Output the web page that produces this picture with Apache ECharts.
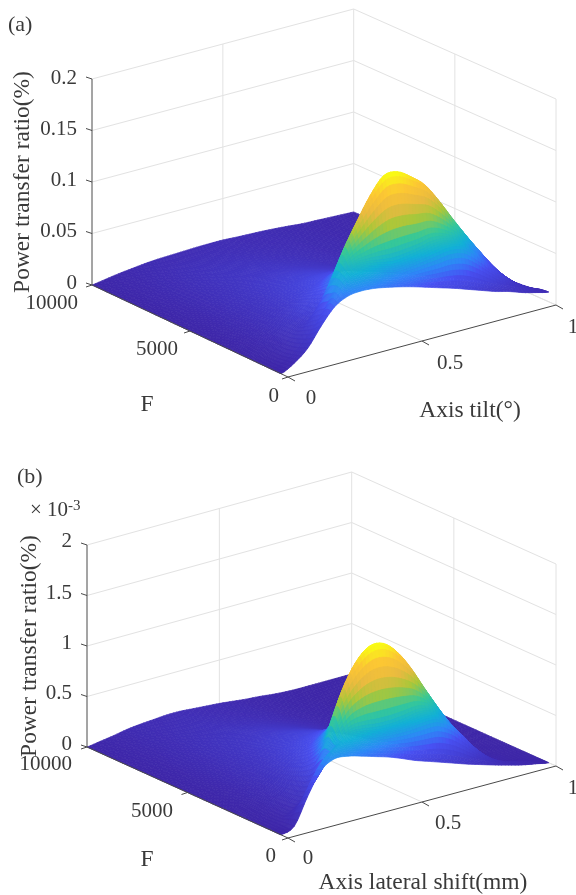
<!DOCTYPE html>
<html>
<head>
<meta charset="utf-8">
<style>html,body{margin:0;padding:0;background:#fff}#c{width:576px;height:895px}</style>
<script src="https://cdn.jsdelivr.net/npm/echarts@6/dist/echarts.min.js"></script>
</head>
<body>
<div id="c"></div>
<script>
// ---------- data ----------
const tiltValues = [0,.05,.1,.15,.2,.25,.3,.35,.4,.45,.5,.55,.6,.65,.7,.75,.8,.85,.9,.95,1];
const finesseValues = [350,600,850,1200,1600,2200,3000,4200,6000,8000,10000];

// power transfer ratio (%), one row per finesse value, panel (a)
const ratioTilt = [
 [0,.007,.018,.036,.051,.058,.0595,.0585,.056,.053,.0495,.0455,.0415,.0375,.033,.0285,.024,.0205,.016,.0125,.0095],
 [0,.006,.016,.032,.052,.067,.073,.072,.068,.065,.066,.068,.07,.072,.069,.058,.044,.031,.021,.014,.009],
 [0,.005,.014,.028,.045,.07,.082,.085,.086,.086,.087,.088,.09,.086,.078,.064,.05,.035,.023,.014,.008],
 [0,.004,.012,.024,.04,.066,.094,.117,.138,.153,.153,.145,.134,.116,.095,.075,.056,.038,.023,.012,.006],
 [0,.004,.011,.02,.03,.046,.064,.082,.1,.112,.115,.11,.099,.085,.07,.054,.04,.027,.016,.009,.005],
 [0,.004,.01,.019,.029,.039,.05,.06,.07,.076,.077,.072,.064,.054,.044,.034,.025,.017,.011,.007,.004],
 [0,.0035,.009,.016,.024,.031,.038,.044,.047,.048,.047,.043,.038,.032,.026,.02,.015,.011,.008,.005,.003],
 [0,.003,.008,.014,.02,.026,.03,.033,.034,.033,.031,.028,.024,.02,.016,.013,.01,.008,.006,.004,.003],
 [0,.003,.007,.012,.016,.02,.022,.023,.023,.022,.02,.018,.015,.013,.011,.009,.007,.005,.004,.003,.003],
 [0,.003,.006,.009,.012,.014,.015,.015,.015,.014,.013,.012,.011,.01,.008,.007,.006,.005,.004,.003,.003],
 [0,.002,.004,.0055,.007,.008,.0085,.009,.0095,.0097,.0097,.009,.0085,.008,.0072,.0062,.005,.0045,.004,.0035,.003]
];
// power transfer ratio (x10^-3 %), panel (b)
const ratioShift = [
 [0,.05,.31,.53,.61,.6,.565,.525,.485,.435,.38,.335,.29,.245,.2,.16,.12,.085,.05,.025,0],
 [0,.045,.26,.5,.65,.7,.7,.68,.66,.65,.65,.66,.66,.58,.44,.28,.16,.09,.055,.025,0],
 [0,.04,.16,.32,.5,.72,.82,.83,.82,.82,.83,.84,.78,.62,.46,.3,.17,.08,.04,.01,0],
 [0,.03,.09,.2,.42,.82,1.16,1.38,1.49,1.48,1.37,1.18,.94,.71,.5,.3,.16,.05,.01,0,0],
 [0,.025,.08,.17,.33,.6,.88,1.1,1.22,1.22,1.1,.92,.72,.52,.36,.2,.1,.03,.01,0,0],
 [0,.02,.07,.15,.27,.43,.6,.76,.85,.85,.76,.62,.47,.33,.21,.12,.05,.02,0,0,0],
 [0,.02,.065,.13,.22,.32,.42,.5,.55,.55,.49,.4,.3,.21,.13,.07,.03,.01,0,0,0],
 [0,.02,.06,.12,.18,.25,.31,.35,.37,.36,.32,.26,.19,.13,.08,.04,.02,.01,0,0,0],
 [0,.02,.055,.1,.15,.19,.22,.24,.24,.22,.19,.15,.11,.07,.045,.025,.01,0,0,0,0],
 [0,.02,.05,.08,.11,.13,.14,.14,.13,.12,.1,.08,.055,.035,.02,.01,0,0,0,0,0],
 [0,.02,.04,.065,.08,.09,.1,.1,.09,.08,.07,.055,.04,.03,.015,.005,0,0,0,0,0]
];
const tiltTicks = [0,.5,1];
const tiltTickLabels = ['0','0.5','1'];
const finesseTicks = [0,5000,10000];
const finesseTickLabels = ['0','5000','10000'];
const ratioTicksA = [0,.05,.1,.15,.2];
const ratioTickLabelsA = ['0','0.05','0.1','0.15','0.2'];
const ratioTicksB = [0,.5,1,1.5,2];
const ratioTickLabelsB = ['0','0.5','1','1.5','2'];

// ---------- layout ----------
const serif = '"Liberation Serif","Times New Roman",serif';
const textColor = '#3a3a3a';
const panels = [
 { front:[288,377], right:[556,305], left:[92,285], back:[353.7,215], zMax:.2, zPx:206,
   table:ratioTilt, zTicks:ratioTicksA, zLabels:ratioTickLabelsA,
   zLabelPos:[[77,283],[77,231],[77,180],[77,129],[77,78]],
   fLabelPos:[[279,396,'right'],[178,349,'right'],[78,303,'right']],
   tLabelPos:[[311,398,'center'],[450,363,'center'],[573,327,'center']],
   panelTag:['(a)',8,25], yTitle:[23,182], xTitle:['Axis tilt(\u00b0)',470,411], fTitle:[147,405] },
 { front:[288,838], right:[556,766], left:[87,747], back:[351.7,674], zMax:2, zPx:202,
   table:ratioShift, zTicks:ratioTicksB, zLabels:ratioTickLabelsB,
   zLabelPos:[[72,744],[72,693],[72,643],[72,593],[72,541]],
   fLabelPos:[[276,856,'right'],[173,811,'right'],[72,764,'right']],
   tLabelPos:[[308,858,'center'],[448,823,'center'],[573,788,'center']],
   panelTag:['(b)',17,477], exponent:[30,510], yTitle:[30,646], xTitle:['Axis lateral shift(mm)',423,883], fTitle:[147,860] }
];
const parula = ['#3e26a8','#4852f4','#2e87f7','#12b1d6','#37c897','#abc739','#e8ba40','#fcc634','#f9fb15'];
const zFracStops = [0,.15,.3,.48,.59,.7,.83,1];
const levelStops = [0,.05,.115,.375,.5,.625,.8,1];
const tiltShade = 4, rowShade = 8; // facets per table cell, the equivalent of MATLAB's interpolated shading

function levelOf(fr){
  for(let k=1;k<zFracStops.length;k++){
    if(fr<=zFracStops[k]){
      const a=(fr-zFracStops[k-1])/(zFracStops[k]-zFracStops[k-1]);
      return levelStops[k-1]+a*(levelStops[k]-levelStops[k-1]);
    }
  }
  return 1;
}
const fNorm = F => F/10000;

function project(p,t,f,z){
  const mix = i => (1-t)*(1-f)*p.front[i] + t*(1-f)*p.right[i] + (1-t)*f*p.left[i] + t*f*p.back[i];
  return [mix(0), mix(1) - z/p.zMax*p.zPx];
}
function cr(a,b,c,d,u){
  return .5*(2*b+(c-a)*u+(2*a-5*b+4*c-d)*u*u+(3*b-a-3*c+d)*u*u*u);
}
const clampIdx=(i,n)=>Math.max(0,Math.min(n-1,i));
// smooth drawing mesh for one panel, evaluated from the table at draw time
function shadeMesh(p){
  const nr=finesseValues.length, nc=tiltValues.length, mesh=[];
  const at=(r,c)=>p.table[clampIdx(r,nr)][clampIdx(c,nc)];
  for(let R=0;R<=(nr-1)*rowShade;R++){
    const r=Math.min(Math.floor(R/rowShade),nr-2), u=R/rowShade-r, row=[];
    for(let C=0;C<=(nc-1)*tiltShade;C++){
      const c=Math.min(Math.floor(C/tiltShade),nc-2), v=C/tiltShade-c;
      const col=[-1,0,1,2].map(d=>cr(at(r+d,c-1),at(r+d,c),at(r+d,c+1),at(r+d,c+2),v));
      const z=Math.max(0,cr(col[0],col[1],col[2],col[3],u));
      const Fv=finesseValues[r]+u*(finesseValues[r+1]-finesseValues[r]);
      const tv=tiltValues[c]+v*(tiltValues[c+1]-tiltValues[c]);
      row.push([tv,fNorm(Fv),z]);
    }
    mesh.push(row);
  }
  return mesh;
}

function surfaceSeries(p){
  const mesh=shadeMesh(p);
  const top = Math.max(...p.table.flat());
  const cells = [];
  for(let r=mesh.length-2;r>=0;r--){
    for(let c=mesh[0].length-2;c>=0;c--){ cells.push([r,c]); }
  }
  return {
    type:'custom', coordinateSystem:'cartesian2d', animation:false, clip:false, silent:true, z:3,
    data:cells, progressive:0,
    renderItem:function(params,api){
      const r=api.value(0), c=api.value(1);
      const vs=[mesh[r][c],mesh[r][c+1],mesh[r+1][c+1],mesh[r+1][c]];
      const pts=vs.map(v=>api.coord(project(p,v[0],v[1],v[2])));
      const mean=(vs[0][2]+vs[1][2]+vs[2][2]+vs[3][2])/4;
      const col=echarts.color.lerp(Math.min(1,levelOf(mean/top)),parula);
      return {type:'polygon',shape:{points:pts},style:{fill:col,stroke:col,lineWidth:.7,lineJoin:'round'}};
    }
  };
}

function frameSeries(p){
  return {
    type:'custom', coordinateSystem:'cartesian2d', animation:false, clip:false, silent:true, z:1,
    data:[[0,0]],
    renderItem:function(params,api){
      const kids=[];
      const P=(t,f,z)=>api.coord(project(p,t,f,z));
      const line=(a,b,col,w)=>kids.push({type:'line',shape:{x1:a[0],y1:a[1],x2:b[0],y2:b[1]},style:{stroke:col,lineWidth:w}});
      const grid='#e2e2e2';
      p.zTicks.forEach(z=>{
        line(P(0,1,z),P(1,1,z),grid,1);
        line(P(1,1,z),P(1,0,z),grid,1);
      });
      tiltTicks.forEach(t=>{
        if(t>0) line(P(t,1,0),P(t,1,p.zMax),grid,1);
        if(t>0) line(P(t,0,0),P(t,1,0),grid,1);
      });
      finesseTicks.forEach(F=>{
        const f=fNorm(F);
        if(f<1) line(P(1,f,0),P(1,f,p.zMax),grid,1);
        if(f>0&&f<1) line(P(0,f,0),P(1,f,0),grid,1);
      });
      return {type:'group',children:kids};
    }
  };
}

function annotationSeries(p){
  return {
    type:'custom', coordinateSystem:'cartesian2d', animation:false, clip:false, silent:true, z:5,
    data:[[0,0]],
    renderItem:function(params,api){
      const kids=[];
      const P=(t,f,z)=>api.coord(project(p,t,f,z));
      const axis='#4a4a4a';
      const line=(a,b)=>kids.push({type:'line',shape:{x1:a[0],y1:a[1],x2:b[0],y2:b[1]},style:{stroke:axis,lineWidth:1}});
      const label=(s,pos,size,align,rot)=>kids.push({type:'text',x:pos[0],y:pos[1],rotation:rot||0,
        style:{text:s,fill:textColor,font:size+'px '+serif,textAlign:align||'right',textVerticalAlign:'middle'}});
      line(P(0,0,0),P(1,0,0));
      line(P(0,0,0),P(0,1,0));
      line(P(0,1,0),P(0,1,p.zMax));
      tiltTicks.forEach((t,i)=>{
        const a=P(t,0,0); line(a,[a[0]+7,a[1]+4]);
        kids.push({type:'text',x:p.tLabelPos[i][0],y:p.tLabelPos[i][1],style:{text:tiltTickLabels[i],fill:textColor,font:'21px '+serif,textAlign:'center',textVerticalAlign:'middle'}});
      });
      finesseTicks.forEach((F,i)=>{
        const a=P(0,fNorm(F),0); line(a,[a[0]-6,a[1]+2]);
        label(finesseTickLabels[i],p.fLabelPos[i],21,p.fLabelPos[i][2]);
      });
      p.zTicks.forEach((z,i)=>{
        const a=P(0,1,z); line(a,[a[0]-6,a[1]-2]);
        label(p.zLabels[i],p.zLabelPos[i],21,'right');
      });
      label(p.panelTag[0],[p.panelTag[1],p.panelTag[2]],22,'left');
      label('Power transfer ratio(%)',p.yTitle,23.5,'center',Math.PI/2);
      label(p.xTitle[0],[p.xTitle[1],p.xTitle[2]],23.5,'center');
      label('F',p.fTitle,23.5,'center');
      if(p.exponent){
        kids.push({type:'text',x:p.exponent[0],y:p.exponent[1],style:{
          text:'{a|\u00d7 10}{b|-3}',textVerticalAlign:'middle',textAlign:'left',fill:textColor,
          rich:{a:{font:'21px '+serif,fill:textColor},b:{font:'15px '+serif,fill:textColor,verticalAlign:'top',padding:[0,0,8,0]}}
        }});
      }
      return {type:'group',children:kids};
    }
  };
}

const chart = echarts.init(document.getElementById('c'),null,{renderer:'canvas'});
const series=[];
panels.forEach(p=>{ series.push(frameSeries(p),surfaceSeries(p),annotationSeries(p)); });
chart.setOption({
  animation:false, backgroundColor:'#fff',
  grid:{left:0,right:0,top:0,bottom:0},
  xAxis:{type:'value',min:0,max:576,show:false},
  yAxis:{type:'value',min:0,max:895,inverse:true,show:false},
  series:series
});
</script>
</body>
</html>
